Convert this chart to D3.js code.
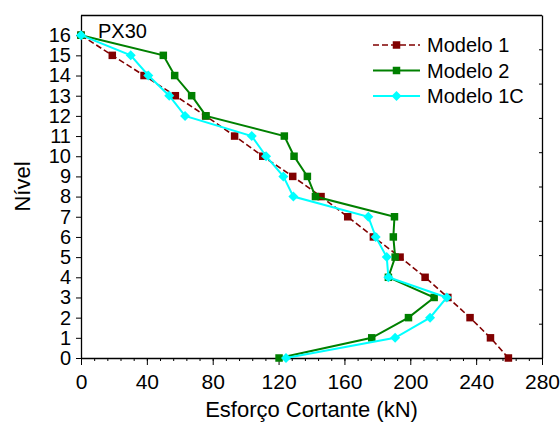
<!DOCTYPE html>
<html>
<head>
<meta charset="utf-8">
<script src="https://cdn.jsdelivr.net/npm/d3@7"></script>
<style>
  body { margin: 0; background: #fff; }
  text { font-family: "Liberation Sans", Arial, sans-serif; fill: #000; }
</style>
</head>
<body>
<svg id="chart" width="560" height="429"></svg>
<script>
// Floor levels, bottom to top
const levels = [0, 1, 2, 3, 4, 5, 6, 7, 8, 9, 10, 11, 12, 13, 14, 15, 16];

// Shear force per level (kN)
const modelo1  = [259.6, 248.7, 236.3, 222.8, 209.0, 193.8, 177.6, 162.0, 145.8, 128.6, 110.4, 93.3, 75.7, 57.3, 38.3, 19.0, 0];
const modelo2  = [120.3, 176.6, 198.9, 214.5, 186.7, 190.8, 189.7, 190.4, 142.4, 137.5, 129.4, 123.5, 75.9, 67.2, 56.9, 50.0, 0];
const modelo1C = [124.5, 190.8, 212.0, 222.2, 186.7, 185.7, 179.0, 174.5, 129.0, 122.9, 112.4, 103.7, 63.2, 53.6, 40.9, 30.2, 0];

const seriesNames = ["Modelo 1", "Modelo 2", "Modelo 1C"];
const xTicks = [0, 40, 80, 120, 160, 200, 240, 280];

const svg = d3.select("#chart");
const plotL = 81, plotR = 542, plotT = 15, plotB = 358;

const x = d3.scaleLinear().domain([0, 280]).range([plotL, plotR]);
const y = d3.scaleLinear().domain([0, 17]).range([plotB, plotT]);

const series = [
  { name: seriesNames[0], values: modelo1,  color: "#800000", dash: "6,3", shape: "square" },
  { name: seriesNames[1], values: modelo2,  color: "#008000", dash: null,  shape: "square" },
  { name: seriesNames[2], values: modelo1C, color: "#00FFFF", dash: null,  shape: "diamond" }
];

// Frame: top edge
svg.append("line").attr("x1", plotL).attr("x2", plotR).attr("y1", plotT + 0.5).attr("y2", plotT + 0.5)
  .attr("stroke", "#000").attr("stroke-width", 1.3);

// Right axis: unlabelled inward ticks
const yRight = d3.scaleLinear().domain([0, 10]).range([plotB, plotT]);
svg.append("g").attr("transform", `translate(${plotR},0)`)
  .call(d3.axisLeft(yRight).ticks(10).tickSize(3).tickSizeOuter(0).tickFormat(""))
  .call(g => g.select(".domain").attr("stroke-width", 1.3));

// Bottom axis: minor ticks every 8 kN, major every 40 kN
svg.append("g").attr("transform", `translate(0,${plotB})`)
  .call(d3.axisBottom(x).tickValues(d3.range(0, 281, 8)).tickSize(3).tickFormat(""))
  .call(g => g.select(".domain").remove());
svg.append("g").attr("transform", `translate(0,${plotB})`)
  .call(d3.axisBottom(x).tickValues(xTicks).tickSize(7).tickPadding(9).tickSizeOuter(0))
  .call(g => g.select(".domain").attr("stroke-width", 1.3))
  .call(g => g.selectAll("text").style("font-size", "21px").attr("font-family", null));

// Left axis
svg.append("g").attr("transform", `translate(${plotL},0)`)
  .call(d3.axisLeft(y).tickValues(levels).tickSize(5).tickPadding(5).tickSizeOuter(0))
  .call(g => g.select(".domain").attr("stroke-width", 1.3))
  .call(g => g.selectAll("text").style("font-size", "20px").attr("font-family", null));

// Axis titles
svg.append("text").attr("x", (plotL + plotR) / 2).attr("y", 417)
  .attr("text-anchor", "middle").style("font-size", "22px")
  .text("Esforço Cortante (kN)");
svg.append("text").attr("transform", `translate(30,${(plotT + plotB) / 2}) rotate(-90)`)
  .attr("text-anchor", "middle").style("font-size", "22px")
  .text("Nível");

// Panel label
svg.append("text").attr("x", 98).attr("y", 38).style("font-size", "20px").text("PX30");

const line = d3.line().x(d => x(d[0])).y(d => y(d[1]));

function drawMarker(g, shape, color, cx, cy) {
  if (shape === "square") {
    g.append("rect").attr("x", cx - 3.75).attr("y", cy - 3.75).attr("width", 7.5).attr("height", 7.5)
      .attr("fill", color);
  } else {
    const r = 5;
    g.append("path").attr("d", `M${cx},${cy - r}L${cx + r},${cy}L${cx},${cy + r}L${cx - r},${cy}Z`)
      .attr("fill", color);
  }
}

series.forEach(s => {
  const pts = s.values.map((v, i) => [v, levels[i]]);
  const g = svg.append("g");
  g.append("path").attr("d", line(pts)).attr("fill", "none")
    .attr("stroke", s.color).attr("stroke-width", s.dash ? 1.6 : 2)
    .attr("stroke-dasharray", s.dash);
  pts.forEach(p => drawMarker(g, s.shape, s.color, x(p[0]), y(p[1])));
});

// Legend
const legendY = [45, 70.5, 96];
series.forEach((s, i) => {
  const g = svg.append("g");
  const ly = legendY[i];
  g.append("line").attr("x1", 373).attr("x2", 420).attr("y1", ly).attr("y2", ly)
    .attr("stroke", s.color).attr("stroke-width", s.dash ? 1.6 : 2)
    .attr("stroke-dasharray", s.dash);
  drawMarker(g, s.shape, s.color, 396.5, ly);
  g.append("text").attr("x", 427).attr("y", ly).attr("dy", "0.35em")
    .style("font-size", "20px").text(s.name);
});
</script>
</body>
</html>
